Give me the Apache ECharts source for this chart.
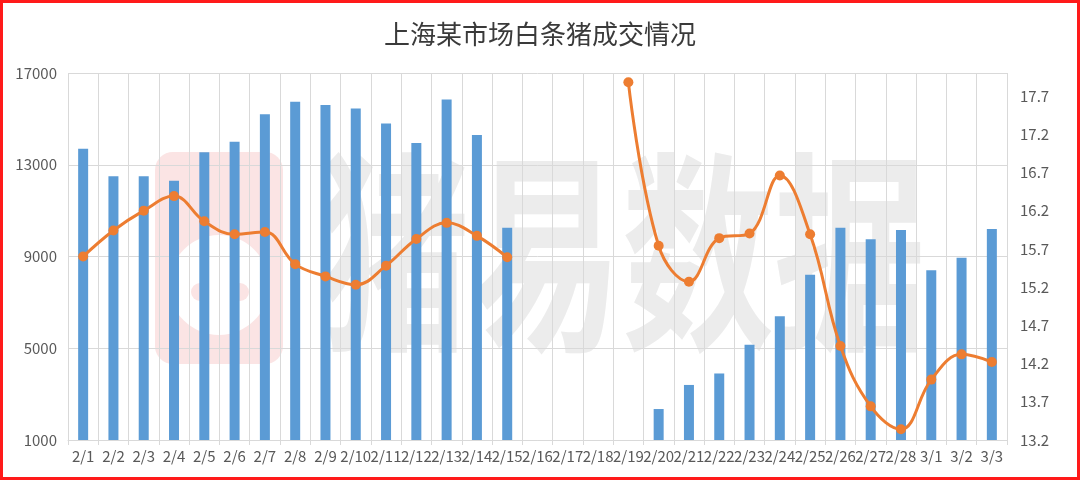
<!DOCTYPE html>
<html>
<head>
<meta charset="utf-8">
<script src="https://cdn.jsdelivr.net/npm/echarts@6/dist/echarts.min.js"></script>
<style>html,body{margin:0;padding:0;background:#fff;}#c{width:1080px;height:480px;}</style>
</head>
<body>
<div id="c"></div>
<script>
const titleText = '上海某市场白条猪成交情况';
const categories = ['2/1','2/2','2/3','2/4','2/5','2/6','2/7','2/8','2/9','2/10','2/11','2/12','2/13','2/14','2/15','2/16','2/17','2/18','2/19','2/20','2/21','2/22','2/23','2/24','2/25','2/26','2/27','2/28','3/1','3/2','3/3'];
const volume = [13700, 12500, 12500, 12300, 13550, 14000, 15200, 15750, 15600, 15450, 14800, 13950, 15850, 14300, 10250, null, null, null, null, 2350, 3400, 3900, 5150, 6400, 8200, 10250, 9750, 10150, 8400, 8950, 10200];
const price = [15.60, 15.94, 16.20, 16.39, 16.06, 15.89, 15.92, 15.50, 15.34, 15.23, 15.48, 15.83, 16.04, 15.87, 15.59, null, null, null, 17.88, 15.74, 15.27, 15.84, 15.90, 16.66, 15.89, 14.43, 13.64, 13.34, 13.99, 14.32, 14.22];
const leftAxis = {min: 1000, max: 17000, interval: 4000};
const rightAxis = {min: 13.2, max: 18.0, interval: 0.5};
const watermark = '猪易数据';

const chart = echarts.init(document.getElementById('c'), null, {renderer: 'canvas'});
const font = '"Noto Sans CJK SC", "Noto Sans", sans-serif';
const grid = '#d9d9d9';
chart.setOption({
  animation: false,
  backgroundColor: '#ffffff',
  title: {
    text: titleText, left: 'center', top: 16,
    textStyle: {fontSize: 26, fontWeight: 'normal', color: '#3a3a3a', fontFamily: font}
  },
  graphic: [
    {type: 'rect', z: -10, shape: {x: 155, y: 152, width: 128, height: 212, r: 18}, style: {fill: '#fbe4e4'}},
    {type: 'circle', z: -9, shape: {cx: 219, cy: 285, r: 50}, style: {fill: '#ffffff'}},
    {type: 'circle', z: -8, shape: {cx: 200, cy: 292, r: 9}, style: {fill: '#fbe4e4'}},
    {type: 'circle', z: -8, shape: {cx: 240, cy: 292, r: 9}, style: {fill: '#fbe4e4'}},
    {type: 'text', z: -9, x: 622, y: 252, scaleY: 1.4,
      style: {text: watermark, fontSize: 152, fontWeight: 'bold', fontFamily: font, fill: '#ececec', align: 'center', verticalAlign: 'middle'}},
    {type: 'rect', z: 100, shape: {x: 1.5, y: 1.5, width: 1077, height: 477}, style: {fill: 'none', stroke: '#ff1a1a', lineWidth: 3}}
  ],
  grid: {left: 68, right: 73, top: 73, bottom: 40, containLabel: false},
  xAxis: {
    type: 'category', data: categories, boundaryGap: true,
    axisLine: {show: true, lineStyle: {color: grid}},
    axisTick: {show: true, length: 5, lineStyle: {color: grid}},
    splitLine: {show: true, lineStyle: {color: grid}},
    axisLabel: {interval: 0, fontSize: 15, color: '#595959', fontFamily: font, margin: 9}
  },
  yAxis: [
    {type: 'value', min: leftAxis.min, max: leftAxis.max, interval: leftAxis.interval,
      axisLine: {show: false}, axisTick: {show: false},
      splitLine: {show: true, lineStyle: {color: grid}},
      axisLabel: {fontSize: 15, color: '#595959', fontFamily: font, margin: 11, formatter: v => String(v)}},
    {type: 'value', min: rightAxis.min, max: rightAxis.max, interval: rightAxis.interval,
      axisLine: {show: false}, axisTick: {show: false}, splitLine: {show: false},
      axisLabel: {fontSize: 15, color: '#595959', fontFamily: font, margin: 13, showMaxLabel: false,
        formatter: v => v.toFixed(1)}}
  ],
  series: [
    {type: 'bar', data: volume, yAxisIndex: 0, barWidth: 10,
      itemStyle: {color: '#5b9bd5'}},
    {type: 'line', data: price, yAxisIndex: 1, smooth: 0.4, connectNulls: false,
      symbol: 'circle', symbolSize: 10,
      lineStyle: {color: '#ed7d31', width: 3},
      itemStyle: {color: '#ed7d31'}}
  ]
});
</script>
</body>
</html>
